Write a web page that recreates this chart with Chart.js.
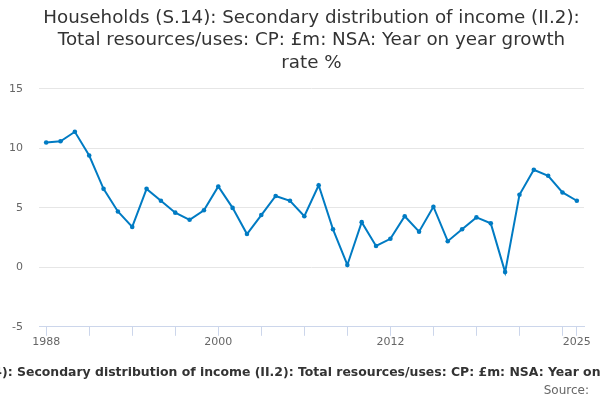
<!DOCTYPE html>
<html>
<head>
<meta charset="utf-8">
<script src="https://cdn.jsdelivr.net/npm/chart.js@4"></script>
<style>
  body { margin: 0; background: #fff; }
  #wrap { width: 600px; height: 400px; }
</style>
</head>
<body>
<div id="wrap"><canvas id="myChart"></canvas></div>
<script>
const years = [];
for (let y = 1988; y <= 2025; y++) years.push(String(y));

const growth = [
  10.5, 10.6, 11.4, 9.4, 6.6, 4.7, 3.4, 6.6, 5.6, 4.6,
  4.0, 4.8, 6.8, 5.0, 2.8, 4.4, 6.0, 5.6, 4.3, 6.9,
  3.2, 0.2, 3.8, 1.8, 2.4, 4.3, 3.0, 5.1, 2.2, 3.2,
  4.2, 3.7, -0.4, 6.1, 8.2, 7.7, 6.3, 5.6
];

const yTicks = [-5, 0, 5, 10, 15];
const xLabels = ["1988", "2000", "2012", "2025"];

const titleLines = [
  "Households (S.14): Secondary distribution of income (II.2):",
  "Total resources/uses: CP: £m: NSA: Year on year growth",
  "rate %"
];
const axisTitle = "Households (S.14): Secondary distribution of income (II.2): Total resources/uses: CP: £m: NSA: Year on year growth rate %";
const sourceText = "Source:";

const FONT = "'DejaVu Sans', sans-serif";
Chart.defaults.font.family = FONT;

// centre the title over the plot area, and draw the long x axis title
// ourselves so it is not squeezed to fit the canvas
const extraText = {
  id: 'extraText',
  afterLayout(chart) {
    const area = chart.chartArea;
    chart.titleBlock.left = area.left;
    chart.titleBlock.right = area.right;
  },
  afterDraw(chart) {
    const ctx = chart.ctx;
    ctx.save();
    ctx.textBaseline = 'middle';
    ctx.textAlign = 'left';
    ctx.fillStyle = '#333333';
    ctx.font = "bold 12.45px " + FONT;
    const w0 = ctx.measureText("Households (S.14): ").width;
    ctx.fillText(axisTitle, 17 - w0, 373);
    ctx.textAlign = 'right';
    ctx.fillStyle = '#666666';
    ctx.font = "12px " + FONT;
    ctx.fillText(sourceText, 589, 391);
    ctx.restore();
  }
};

new Chart(document.getElementById('myChart'), {
  type: 'line',
  data: {
    labels: years,
    datasets: [{
      label: axisTitle,
      data: growth,
      borderColor: '#007bc3',
      backgroundColor: '#007bc3',
      borderWidth: 2,
      pointRadius: 2.3,
      pointBorderWidth: 0,
      pointHoverRadius: 3,
      tension: 0
    }]
  },
  plugins: [extraText],
  options: {
    responsive: true,
    maintainAspectRatio: false,
    animation: false,
    layout: { padding: { left: 8, right: 16, top: 0, bottom: 51 } },
    plugins: {
      legend: { display: false },
      tooltip: { enabled: false },
      title: {
        display: true,
        text: titleLines,
        color: '#333333',
        font: { size: 18.3, weight: 'normal', lineHeight: 1.22 },
        padding: { top: 7, bottom: 15 }
      }
    },
    scales: {
      x: {
        offset: true,
        grid: {
          offset: false,
          drawOnChartArea: false,
          drawTicks: true,
          tickLength: 9,
          color: '#ccd6eb'
        },
        border: { color: '#ccd6eb', width: 1 },
        ticks: {
          autoSkip: false,
          maxRotation: 0,
          color: '#666666',
          font: { size: 11 },
          padding: 0,
          callback: function (value, index) {
            const label = years[index];
            if (xLabels.includes(label)) return label;
            if (index % 3 === 0) return '';
            return null;
          }
        }
      },
      y: {
        min: -5,
        max: 15,
        afterBuildTicks: function (axis) {
          axis.ticks = yTicks.map(v => ({ value: v }));
        },
        afterFit: function (axis) {
          axis.width = 31;
        },
        grid: {
          color: '#e6e6e6',
          drawTicks: false
        },
        border: { display: false },
        ticks: {
          color: '#666666',
          font: { size: 11 },
          padding: 16
        }
      }
    }
  }
});
</script>
</body>
</html>
